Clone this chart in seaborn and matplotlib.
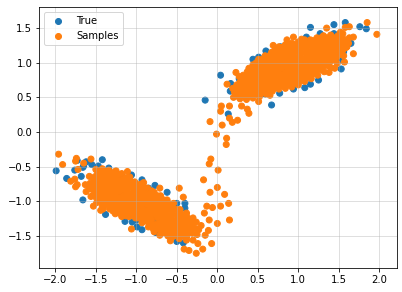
import numpy as np
import pandas as pd
import seaborn as sns
import matplotlib
matplotlib.use("Agg")
import matplotlib.pyplot as plt

# values, (x, y)
true_lower = [
    (-1.99, -0.56), (-1.86, -0.67), (-1.76, -0.55), (-1.73, -0.41), (-1.68, -0.64), (-1.66, -0.51),
    (-1.65, -0.49), (-1.62, -0.43), (-1.55, -0.47), (-1.42, -0.40), (-1.47, -0.49), (-1.34, -0.52),
    (-1.18, -0.63), (-1.06, -0.62), (-0.93, -0.69), (-0.77, -0.77), (-0.85, -0.81), (-0.62, -0.87),
    (-0.50, -1.03), (-0.40, -1.03), (-0.40, -1.10), (-1.66, -0.98), (-1.38, -1.19), (-1.14, -1.29),
    (-1.05, -1.30), (-0.99, -1.37), (-0.93, -1.41), (-0.76, -1.45), (-0.50, -1.58), (-0.42, -1.60),
    (-0.76, -1.27), (-1.00, -1.27), (-1.2, -0.9), (-0.9, -1.1),
]
true_upper = [
    (-0.15, 0.46), (0.04, 0.82), (0.165, 0.70), (0.16, 0.59), (0.27, 0.77), (0.135, 0.26),
    (0.67, 0.39), (0.59, 0.55), (0.77, 0.56), (0.94, 0.62), (1.08, 0.64),
    (1.15, 0.69), (1.25, 0.75), (1.53, 0.91), (1.53, 1.04), (1.56, 1.16), (1.65, 1.28),
    (1.44, 1.42), (1.15, 1.51), (1.44, 1.55), (1.58, 1.58), (1.76, 1.52), (1.84, 1.49),
    (1.27, 1.42), (1.10, 1.37), (0.78, 1.23), (0.60, 1.17), (0.51, 1.08), (0.44, 1.05),
    (0.8, 0.9), (1.1, 1.0),
]
samples_lower = [
    (-1.96, -0.32), (-1.91, -0.47), (-1.74, -0.38), (-1.75, -0.42), (-1.65, -0.45), (-1.56, -0.39),
    (-1.72, -0.54), (-1.81, -0.71), (-1.76, -0.68), (-1.75, -0.79), (-1.73, -0.76), (-1.63, -0.76),
    (-1.62, -0.86), (-1.53, -1.07), (-1.44, -1.13), (-1.41, -1.11), (-1.25, -0.56), (-1.11, -0.57),
    (-1.08, -0.65), (-0.91, -0.73), (-0.81, -0.85), (-0.71, -0.81), (-0.47, -0.81), (-0.42, -0.94),
    (-1.06, -1.40), (-0.78, -1.44), (-0.71, -1.49), (-0.58, -1.57), (-0.38, -1.56), (-0.41, -1.69),
    (-0.35, -1.71), (-0.26, -1.75), (-0.18, -1.69), (-0.07, -1.61), (-0.24, -1.61), (-0.30, -1.56),
    (-0.17, -0.69), (-0.09, -0.87), (0.00, -0.80), (0.09, -0.90), (0.14, -1.03), (0.04, -1.07),
    (-0.06, -1.09), (-0.13, -1.07), (-0.16, -1.17), (-0.10, -1.27), (0.00, -1.32), (0.15, -1.27),
    (-0.11, -1.42), (-0.15, -1.49), (-0.23, -1.41), (-0.30, -1.24), (-0.20, -1.35), (-0.25, -1.48),
    (0.01, -0.55), (-0.10, -0.46), (-0.08, -0.39), (0.11, -0.18), (0.115, -0.09),
    (-1.58, -0.64), (-1.57, -0.74), (-1.58, -0.82), (-1.56, -0.93),
    (-1.50, -0.54), (-1.49, -0.62), (-1.51, -0.70), (-1.50, -0.78), (-1.49, -0.86), (-1.50, -0.94), (-1.49, -1.02),
    (-1.42, -0.53), (-1.41, -0.61), (-1.43, -0.69), (-1.42, -0.77), (-1.41, -0.85), (-1.42, -0.93), (-1.43, -1.01), (-1.42, -1.07),
    (-1.34, -0.55), (-1.33, -0.63), (-1.35, -0.71), (-1.34, -0.79), (-1.33, -0.87), (-1.34, -0.95), (-1.35, -1.03), (-1.33, -1.11),
    (-1.26, -0.57), (-1.25, -0.65), (-1.27, -0.73), (-1.26, -0.81), (-1.25, -0.89), (-1.26, -0.97), (-1.27, -1.05), (-1.25, -1.13), (-1.26, -1.18),
    (-1.18, -0.60), (-1.17, -0.68), (-1.19, -0.76), (-1.18, -0.84), (-1.17, -0.92), (-1.18, -1.00), (-1.19, -1.08), (-1.17, -1.16), (-1.18, -1.22),
    (-1.10, -0.66), (-1.09, -0.74), (-1.11, -0.82), (-1.10, -0.90), (-1.09, -0.98), (-1.10, -1.06), (-1.11, -1.14), (-1.09, -1.22),
    (-1.02, -0.72), (-1.01, -0.80), (-1.03, -0.88), (-1.02, -0.96), (-1.01, -1.04), (-1.02, -1.12), (-1.03, -1.20), (-1.01, -1.24),
    (-0.94, -0.75), (-0.93, -0.83), (-0.95, -0.91), (-0.94, -0.99), (-0.93, -1.07), (-0.94, -1.15), (-0.95, -1.23), (-0.93, -1.31),
    (-0.86, -0.81), (-0.85, -0.89), (-0.87, -0.97), (-0.86, -1.05), (-0.85, -1.13), (-0.86, -1.21), (-0.87, -1.29), (-0.85, -1.37),
    (-0.78, -0.87), (-0.77, -0.95), (-0.79, -1.03), (-0.78, -1.11), (-0.77, -1.19), (-0.78, -1.33), (-0.79, -1.40),
    (-0.70, -0.92), (-0.69, -1.00), (-0.71, -1.08), (-0.70, -1.16), (-0.69, -1.24), (-0.70, -1.32), (-0.71, -1.40), (-0.69, -1.46),
    (-0.62, -0.98), (-0.61, -1.06), (-0.63, -1.14), (-0.62, -1.22), (-0.61, -1.30), (-0.62, -1.38), (-0.63, -1.46), (-0.61, -1.50),
    (-0.54, -1.03), (-0.53, -1.11), (-0.55, -1.19), (-0.54, -1.27), (-0.53, -1.35), (-0.54, -1.43), (-0.55, -1.51),
    (-0.46, -1.12), (-0.45, -1.18), (-0.47, -1.26), (-0.46, -1.34), (-0.45, -1.42), (-0.46, -1.50), (-0.47, -1.54),
    (-0.38, -1.17), (-0.37, -1.23), (-0.39, -1.31), (-0.38, -1.39), (-0.37, -1.47), (-0.38, -1.52),
    (-0.30, -1.30), (-0.29, -1.38), (-0.31, -1.46),
]
# staggered points between the columns above, where the cloud is solid
samples_lower_mid = [
    (-1.54, -0.66), (-1.53, -0.74), (-1.54, -0.82), (-1.53, -0.90),
    (-1.46, -0.58), (-1.45, -0.66), (-1.46, -0.74), (-1.45, -0.82), (-1.46, -0.90), (-1.45, -0.98),
    (-1.38, -0.57), (-1.37, -0.65), (-1.38, -0.73), (-1.37, -0.81), (-1.38, -0.89), (-1.37, -0.97), (-1.38, -1.05),
    (-1.30, -0.59), (-1.29, -0.67), (-1.30, -0.75), (-1.29, -0.83), (-1.30, -0.91), (-1.29, -0.99), (-1.30, -1.07), (-1.29, -1.14),
    (-1.22, -0.62), (-1.21, -0.70), (-1.22, -0.78), (-1.21, -0.86), (-1.22, -0.94), (-1.21, -1.02), (-1.22, -1.10), (-1.21, -1.17),
    (-1.14, -0.66), (-1.13, -0.74), (-1.14, -0.82), (-1.13, -0.90), (-1.14, -0.98), (-1.13, -1.06), (-1.14, -1.14), (-1.13, -1.21),
    (-1.06, -0.72), (-1.05, -0.80), (-1.06, -0.88), (-1.05, -0.96), (-1.06, -1.04), (-1.05, -1.12), (-1.06, -1.20),
    (-0.98, -0.76), (-0.97, -0.84), (-0.98, -0.92), (-0.97, -1.00), (-0.98, -1.08), (-0.97, -1.16), (-0.98, -1.24),
    (-0.90, -0.80), (-0.89, -0.88), (-0.90, -0.96), (-0.89, -1.04), (-0.90, -1.12), (-0.89, -1.20), (-0.90, -1.28),
    (-0.82, -0.86), (-0.81, -0.94), (-0.82, -1.02), (-0.81, -1.10), (-0.82, -1.18), (-0.81, -1.26), (-0.82, -1.34),
    (-0.74, -0.92), (-0.73, -1.00), (-0.74, -1.08), (-0.73, -1.16), (-0.74, -1.24), (-0.73, -1.32), (-0.74, -1.40),
    (-0.66, -0.98), (-0.65, -1.06), (-0.66, -1.14), (-0.65, -1.22), (-0.66, -1.30), (-0.65, -1.38), (-0.66, -1.44),
    (-0.58, -1.04), (-0.57, -1.12), (-0.58, -1.20), (-0.57, -1.28), (-0.58, -1.36), (-0.57, -1.44),
    (-0.50, -1.12), (-0.49, -1.20), (-0.50, -1.28), (-0.49, -1.36), (-0.50, -1.44), (-0.49, -1.50),
    (-0.42, -1.20), (-0.41, -1.28), (-0.42, -1.36), (-0.41, -1.44), (-0.42, -1.50),
    (-0.34, -1.28), (-0.33, -1.36), (-0.34, -1.44), (-0.26, -1.30), (-0.25, -1.40),
]
samples_upper = [
    (1.85, 1.58), (1.97, 1.41), (1.63, 1.52), (1.58, 1.51), (1.35, 1.50), (0.94, 1.37),
    (0.86, 1.33), (1.04, 1.34), (0.69, 1.25), (0.23, 0.86), (0.12, 0.69), (0.05, 0.375),
    (0.15, 0.375), (0.04, 0.30), (-0.09, 0.15), (0.06, 0.10), (-0.01, -0.03),
    (0.15, 0.20), (0.185, 0.14), (0.25, 0.17), (0.30, 0.375), (0.39, 0.27), (0.37, 0.33),
    (0.51, 0.44), (0.65, 0.53), (1.68, 1.13), (1.57, 1.01), (1.45, 0.92), (1.38, 0.86),
    (1.68, 1.37), (1.60, 1.23), (0.20, 0.50), (0.21, 0.58), (0.19, 0.63),
    (0.28, 0.48), (0.27, 0.56), (0.29, 0.64), (0.28, 0.72), (0.27, 0.80),
    (0.36, 0.47), (0.35, 0.55), (0.37, 0.63), (0.36, 0.71), (0.35, 0.79), (0.37, 0.87),
    (0.44, 0.49), (0.43, 0.57), (0.45, 0.65), (0.44, 0.73), (0.43, 0.81), (0.45, 0.89), (0.44, 0.97),
    (0.52, 0.51), (0.51, 0.59), (0.53, 0.67), (0.52, 0.75), (0.51, 0.83), (0.53, 0.91), (0.52, 0.99), (0.51, 1.05),
    (0.60, 0.55), (0.59, 0.63), (0.61, 0.71), (0.60, 0.79), (0.59, 0.87), (0.61, 0.95), (0.60, 1.03), (0.59, 1.10),
    (0.68, 0.59), (0.67, 0.67), (0.69, 0.75), (0.68, 0.83), (0.67, 0.91), (0.69, 0.99), (0.68, 1.07), (0.67, 1.15),
    (0.76, 0.62), (0.75, 0.70), (0.77, 0.78), (0.76, 0.86), (0.75, 0.94), (0.77, 1.02), (0.76, 1.10), (0.75, 1.18), (0.76, 1.23),
    (0.84, 0.63), (0.83, 0.71), (0.85, 0.79), (0.84, 0.87), (0.83, 0.95), (0.85, 1.03), (0.84, 1.11), (0.83, 1.19), (0.84, 1.26),
    (0.92, 0.65), (0.91, 0.73), (0.93, 0.81), (0.92, 0.89), (0.91, 0.97), (0.93, 1.05), (0.92, 1.13), (0.91, 1.21), (0.92, 1.28),
    (1.00, 0.68), (0.99, 0.76), (1.01, 0.84), (1.00, 0.92), (0.99, 1.00), (1.01, 1.08), (1.00, 1.16), (0.99, 1.24), (1.00, 1.30),
    (1.08, 0.73), (1.07, 0.81), (1.09, 0.89), (1.08, 0.97), (1.07, 1.05), (1.09, 1.13), (1.08, 1.21), (1.07, 1.29), (1.08, 1.33),
    (1.16, 0.77), (1.15, 0.85), (1.17, 0.93), (1.16, 1.01), (1.15, 1.09), (1.17, 1.17), (1.16, 1.25), (1.15, 1.33),
    (1.24, 0.82), (1.23, 0.90), (1.25, 0.98), (1.24, 1.06), (1.23, 1.14), (1.25, 1.22), (1.24, 1.30), (1.23, 1.36),
    (1.32, 0.87), (1.31, 0.95), (1.33, 1.03), (1.32, 1.11), (1.31, 1.19), (1.33, 1.27), (1.32, 1.35), (1.31, 1.39),
    (1.40, 0.93), (1.39, 1.01), (1.41, 1.09), (1.40, 1.17), (1.39, 1.25), (1.41, 1.33), (1.40, 1.40),
    (1.48, 0.99), (1.47, 1.07), (1.49, 1.15), (1.48, 1.23), (1.47, 1.31), (1.49, 1.39),
    (1.56, 1.10), (1.55, 1.18), (1.57, 1.26), (1.56, 1.34), (1.55, 1.42),
    (1.62, 1.28), (1.63, 1.36), (1.52, 1.44),
]
samples_upper_mid = [
    (0.24, 0.52), (0.25, 0.60), (0.24, 0.68), (0.32, 0.52), (0.31, 0.60), (0.32, 0.68), (0.31, 0.76), (0.32, 0.82),
    (0.40, 0.52), (0.39, 0.60), (0.40, 0.68), (0.39, 0.76), (0.40, 0.84), (0.39, 0.92),
    (0.48, 0.54), (0.47, 0.62), (0.48, 0.70), (0.47, 0.78), (0.48, 0.86), (0.47, 0.94), (0.48, 1.00),
    (0.56, 0.57), (0.55, 0.65), (0.56, 0.73), (0.55, 0.81), (0.56, 0.89), (0.55, 0.97), (0.56, 1.05),
    (0.64, 0.62), (0.63, 0.70), (0.64, 0.78), (0.63, 0.86), (0.64, 0.94), (0.63, 1.02), (0.64, 1.10),
    (0.72, 0.64), (0.71, 0.72), (0.72, 0.80), (0.71, 0.88), (0.72, 0.96), (0.71, 1.04), (0.72, 1.12), (0.71, 1.18),
    (0.80, 0.67), (0.79, 0.75), (0.80, 0.83), (0.79, 0.91), (0.80, 0.99), (0.79, 1.07), (0.80, 1.15), (0.79, 1.22),
    (0.88, 0.68), (0.87, 0.76), (0.88, 0.84), (0.87, 0.92), (0.88, 1.00), (0.87, 1.08), (0.88, 1.16), (0.87, 1.24),
    (0.96, 0.70), (0.95, 0.78), (0.96, 0.86), (0.95, 0.94), (0.96, 1.02), (0.95, 1.10), (0.96, 1.18), (0.95, 1.26),
    (1.04, 0.74), (1.03, 0.82), (1.04, 0.90), (1.03, 0.98), (1.04, 1.06), (1.03, 1.14), (1.04, 1.22), (1.03, 1.30),
    (1.12, 0.79), (1.11, 0.87), (1.12, 0.95), (1.11, 1.03), (1.12, 1.11), (1.11, 1.19), (1.12, 1.27),
    (1.20, 0.84), (1.19, 0.92), (1.20, 1.00), (1.19, 1.08), (1.20, 1.16), (1.19, 1.24), (1.20, 1.32),
    (1.28, 0.90), (1.27, 0.98), (1.28, 1.06), (1.27, 1.14), (1.28, 1.22), (1.27, 1.30), (1.28, 1.36),
    (1.36, 0.96), (1.35, 1.04), (1.36, 1.12), (1.35, 1.20), (1.36, 1.28), (1.35, 1.36),
    (1.44, 1.04), (1.43, 1.12), (1.44, 1.20), (1.43, 1.28), (1.44, 1.36),
    (1.52, 1.12), (1.51, 1.20), (1.52, 1.28), (1.51, 1.36), (1.59, 1.22), (1.59, 1.30),
]
series_names = ["True", "Samples"]
series_colors = ["#1f77b4", "#ff7f0e"]
x_ticks = [-2.0, -1.5, -1.0, -0.5, 0.0, 0.5, 1.0, 1.5, 2.0]
y_ticks = [-1.5, -1.0, -0.5, 0.0, 0.5, 1.0, 1.5]

true_points = pd.DataFrame(true_lower + true_upper, columns=["x", "y"])
true_points["kind"] = series_names[0]
sample_points = pd.DataFrame(samples_lower + samples_lower_mid + samples_upper + samples_upper_mid, columns=["x", "y"])
sample_points["kind"] = series_names[1]
data = pd.concat([true_points, sample_points], ignore_index=True)

fig = plt.figure(figsize=(402 / 72, 292 / 72), dpi=72)
ax = fig.add_axes([39.3 / 402, 23.7 / 292, 357.4 / 402, 261 / 292])
sns.scatterplot(data=data, x="x", y="y", hue="kind", palette=series_colors, s=36,
                linewidth=1, edgecolor="face", ax=ax)
ax.set_xlim(-2.198, 2.215)
ax.set_ylim(-1.967, 1.80)
ax.set_xticks(x_ticks)
ax.set_yticks(y_ticks)
ax.set_xlabel("")
ax.set_ylabel("")
ax.grid(alpha=0.5)
ax.legend(title=None, loc="upper left")
fig.savefig("out.png", dpi=72)
